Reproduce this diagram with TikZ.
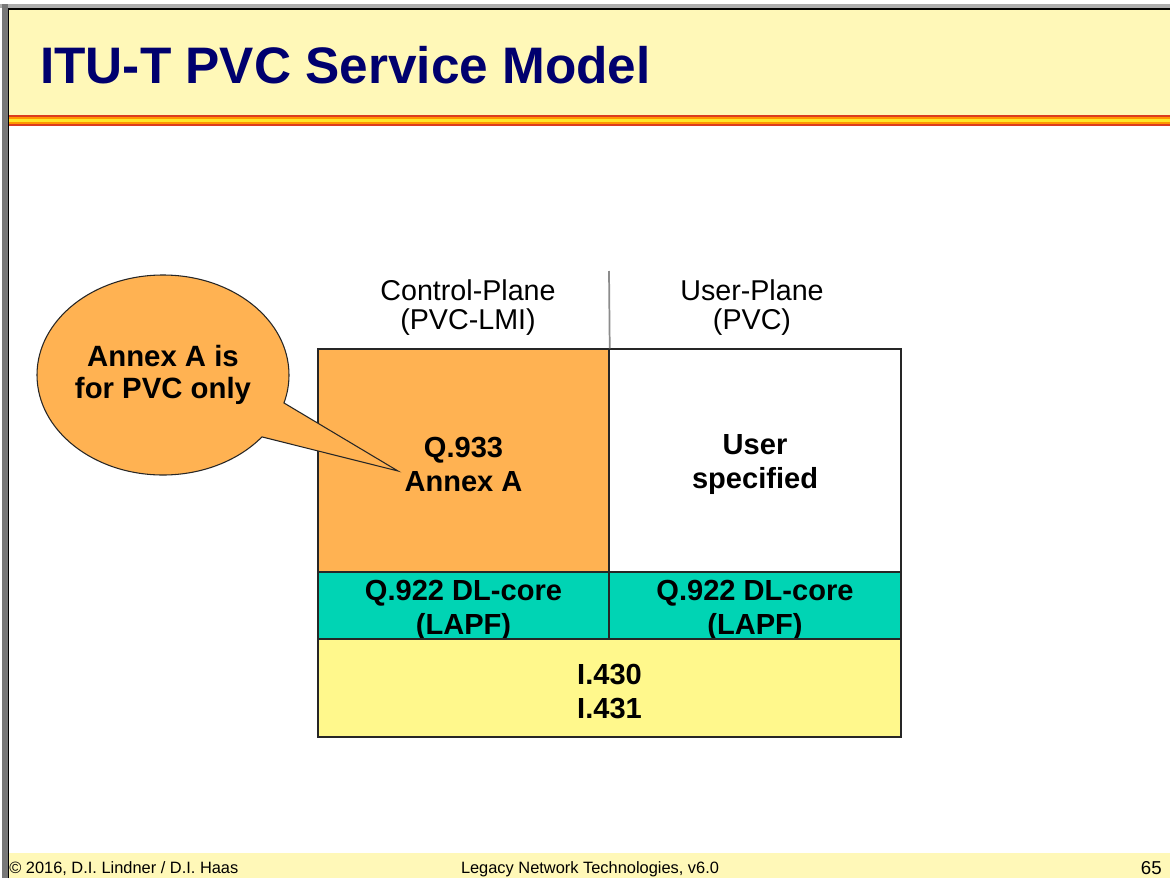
\documentclass[tikz,border=0pt]{standalone}
\usepackage{fontspec}
\setmainfont{Liberation Sans}
\usetikzlibrary{shapes.callouts}
\definecolor{titlebg}{RGB}{255,248,184}
\definecolor{navy}{RGB}{0,0,110}
\definecolor{orangebox}{RGB}{255,178,82}
\definecolor{tealbox}{RGB}{0,212,180}
\definecolor{yellowbox}{RGB}{255,248,140}
\definecolor{stripered}{RGB}{220,60,30}
\definecolor{stripeorange}{RGB}{255,150,0}
\definecolor{stripeyellow}{RGB}{255,230,40}
\definecolor{framegrey}{RGB}{120,120,120}
\begin{document}
\begin{tikzpicture}[x=0.75pt,y=-0.75pt,
  layerbox/.style={draw=black!85, line width=1.1pt, inner sep=0pt},
  layertext/.style={inner sep=0pt, align=center, yshift=-3pt,
    font=\fontsize{21.8}{25.5}\selectfont\bfseries},
  planelabel/.style={inner sep=0pt, align=center, font=\fontsize{21.5}{21.75}\selectfont},
  footertext/.style={inner sep=0pt, font=\fontsize{12.3}{14}\selectfont},
  bubble/.style={ellipse callout, draw=black!85, line width=0.8pt, fill=orangebox,
    inner sep=0pt, align=center, font=\fontsize{22}{24.5}\selectfont\bfseries,
    callout pointer arc=22}
]
\useasboundingbox (0,0) rectangle (1170,878);
\fill[white] (0,0) rectangle (1170,878);
% frame
\fill[framegrey!60] (0,4) rectangle (1170,8);
\fill[framegrey] (2,4) rectangle (8,878);
\draw[black, line width=1.2pt] (8.5,878) -- (8.5,9) -- (1170,9);
% title bar
\fill[titlebg] (9,10) rectangle (1170,115);
\fill[stripered] (9,114.5) rectangle (1170,126);
\fill[stripeorange] (9,116.5) rectangle (1170,124);
\fill[stripeyellow] (9,118.5) rectangle (1170,121.5);
\node[anchor=base west, inner sep=0pt, text=navy, font=\fontsize{38.5}{40}\selectfont\bfseries] (title) at (40,83) {ITU-T PVC Service Model};
% footer
\fill[titlebg] (9,853) rectangle (1170,878);
\node[footertext, anchor=base west] (copy) at (9,873) {© 2016, D.I. Lindner / D.I. Haas};
\node[footertext, anchor=base] (course) at (590,873) {Legacy Network Technologies, v6.0};
\node[footertext, anchor=base east, font=\fontsize{14}{16}\selectfont] (page) at (1162,874) {65};
% boxes
\node[layerbox, fill=orangebox, minimum width=291*0.75pt, minimum height=223*0.75pt,
  label={[layertext]center:{Q.933\\Annex A}}] (q933) at (463.5,460.5) {};
\node[layerbox, fill=white, minimum width=292*0.75pt, minimum height=223*0.75pt,
  label={[layertext]center:{User\\specified}}] (user) at (755,460.5) {};
\node[layerbox, fill=tealbox, minimum width=291*0.75pt, minimum height=67*0.75pt,
  label={[layertext, yshift=-1pt]center:{Q.922 DL-core\\(LAPF)}}] (dlc) at (463.5,605.5) {};
\node[layerbox, fill=tealbox, minimum width=292*0.75pt, minimum height=67*0.75pt,
  label={[layertext, yshift=-1pt]center:{Q.922 DL-core\\(LAPF)}}] (dlu) at (755,605.5) {};
\node[layerbox, fill=yellowbox, minimum width=583*0.75pt, minimum height=98*0.75pt,
  label={[layertext]center:{I.430\\I.431}}] (phy) at (609.5,688) {};
% plane labels
\coordinate (divtop) at (609,271);
\draw[black!45, line width=1.3pt] (divtop) -- (q933.north east);
\node[planelabel] (cp) at (468,308) {Control-Plane\\(PVC-LMI)};
\node[planelabel] (up) at (752,308) {User-Plane\\(PVC)};
% callout
\coordinate (tip) at (398,471);
\node[bubble, minimum width=252*0.75pt, minimum height=200*0.75pt, callout absolute pointer={(tip)}] (note) at (163,375) {Annex A is\\for PVC only};
\end{tikzpicture}
\end{document}
